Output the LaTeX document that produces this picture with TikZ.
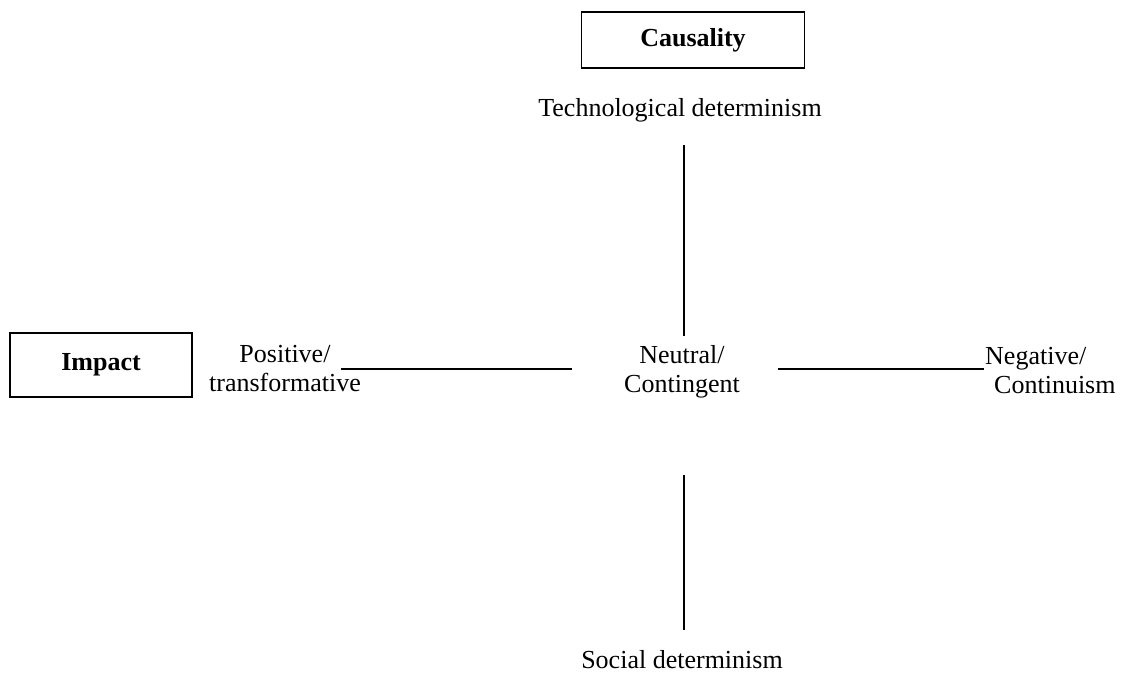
\documentclass[tikz,border=0pt]{standalone}
\usepackage{fontspec}
\setmainfont{Liberation Serif}
\begin{document}
\begin{tikzpicture}[x=1pt,y=-1pt,
  lbl/.style={font=\fontsize{26}{29}\selectfont, align=center, inner sep=0pt},
  boxlbl/.style={draw, line width=1.3pt, font=\bfseries\fontsize{26}{29}\selectfont, inner sep=0pt},
  axis/.style={line width=1.3pt}]
\useasboundingbox (0,0) rectangle (1127,686);
\node[boxlbl, minimum width=223pt, minimum height=56pt] (caus) at (693,40) {Causality};
\node[boxlbl, minimum width=182pt, minimum height=64pt] (imp) at (101,365) {Impact};
\node[lbl] (tech) at (680,110) {Technological determinism};
\node[lbl] (pos) at (285,369) {Positive/\\transformative};
\node[lbl] (neu) at (682,372) {Neutral/\\Contingent};
\node[lbl, align=left, anchor=west] (neg) at (985,371) {Negative/\\\hspace*{9pt}Continuism};
\node[lbl] (soc) at (682,660) {Social determinism};
\coordinate (t1) at (684,145);
\coordinate (t2) at (684,336);
\coordinate (b1) at (684,475);
\coordinate (b2) at (684,630);
\coordinate (l1) at (341,369);
\coordinate (l2) at (572,369);
\coordinate (r1) at (778,369);
\coordinate (r2) at (984,369);
\draw[axis] (t1) -- (t2);
\draw[axis] (b1) -- (b2);
\draw[axis] (l1) -- (l2);
\draw[axis] (r1) -- (r2);
\end{tikzpicture}
\end{document}
